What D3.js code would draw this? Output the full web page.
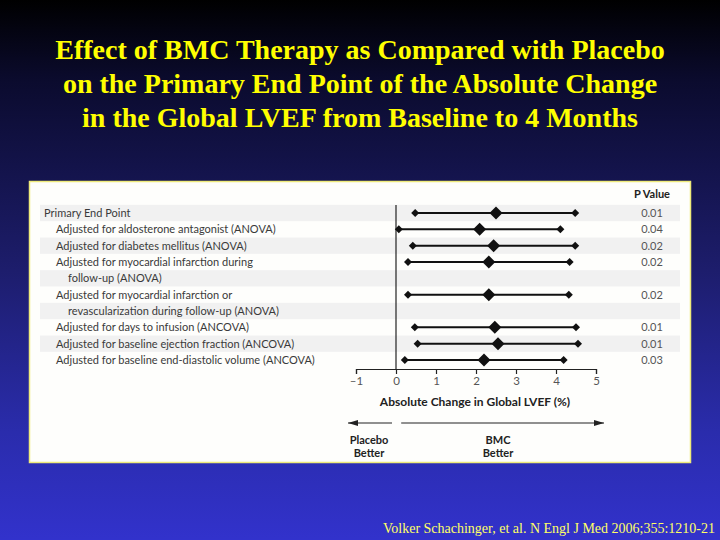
<!DOCTYPE html>
<html lang="en">
<head>
  <meta charset="UTF-8">
  <title>Effect of BMC Therapy</title>
  <script src="https://d3js.org/d3.v7.min.js"></script>
  <style>
    body { margin: 0; padding: 0; background: #000; }
    svg { display: block; }
    .label { font-family: Lato, "Open Sans", sans-serif; font-size: 11px; fill: #3a3a3a; }
    .title { font-family: "Liberation Serif", "Times New Roman", serif; font-weight: bold; font-size: 28px; fill: #ffff00; }
  </style>
</head>
<body>
  <div id="chart"></div>
  <script>
    const titleLines = [
      "Effect of BMC Therapy as Compared with Placebo",
      "on the Primary End Point of the Absolute Change",
      "in the Global LVEF from Baseline to 4 Months"
    ];
    const rowLabels = [
      "Primary End Point",
      "Adjusted for aldosterone antagonist (ANOVA)",
      "Adjusted for diabetes mellitus (ANOVA)",
      "Adjusted for myocardial infarction during",
      "follow-up (ANOVA)",
      "Adjusted for myocardial infarction or",
      "revascularization during follow-up (ANOVA)",
      "Adjusted for days to infusion (ANCOVA)",
      "Adjusted for baseline ejection fraction (ANCOVA)",
      "Adjusted for baseline end-diastolic volume (ANCOVA)"
    ];
    const rowIndent = [0, 1, 1, 1, 2, 1, 2, 1, 1, 1];
    const estimate = [2.5, 2.09, 2.44, 2.32, null, 2.32, null, 2.47, 2.55, 2.2];
    const lower = [0.48, 0.07, 0.42, 0.3, null, 0.3, null, 0.47, 0.54, 0.22];
    const upper = [4.48, 4.11, 4.48, 4.34, null, 4.32, null, 4.5, 4.55, 4.19];
    const pValues = ["0.01", "0.04", "0.02", "0.02", "", "0.02", "", "0.01", "0.01", "0.03"];
    const xTicks = [-1, 0, 1, 2, 3, 4, 5];
    const citation = "Volker Schachinger, et al. N Engl J Med 2006;355:1210-21";

    const width = 720, height = 540;

    const svg = d3.select("#chart").append("svg")
      .attr("width", width)
      .attr("height", height);

    // slide background
    const grad = svg.append("defs").append("linearGradient")
      .attr("id", "bg").attr("x1", 0).attr("y1", 0).attr("x2", 0).attr("y2", 1);
    [[0, "#000000"], [0.15, "#0b0b2e"], [0.5, "#1d1d6c"], [0.8, "#2a2cac"], [1, "#3232cc"]]
      .forEach(s => grad.append("stop").attr("offset", s[0]).attr("stop-color", s[1]));
    svg.append("rect").attr("width", width).attr("height", height).attr("fill", "url(#bg)");

    svg.selectAll(".title").data(titleLines).enter().append("text")
      .attr("class", "title")
      .attr("x", width / 2)
      .attr("y", (d, i) => 59 + i * 34)
      .attr("text-anchor", "middle")
      .text(d => d);

    // figure panel
    svg.append("rect")
      .attr("x", 29.5).attr("y", 181.5).attr("width", 661).attr("height", 281)
      .attr("fill", "#fefefc").attr("stroke", "#eeea7a").attr("stroke-width", 1.5);

    const x = d3.scaleLinear().domain([-1, 5]).range([356, 596]);
    const y = d3.scaleLinear().domain([0, rowLabels.length - 1]).range([213, 360]);
    const rowH = y(1) - y(0);

    const rows = rowLabels.map((label, i) => ({
      label, indent: rowIndent[i], est: estimate[i], lo: lower[i], hi: upper[i], p: pValues[i], i
    }));

    svg.append("g").selectAll("rect")
      .data(rows.filter(d => d.i % 2 === 0))
      .enter().append("rect")
      .attr("x", 40).attr("width", 640)
      .attr("y", d => y(d.i) - rowH / 2)
      .attr("height", rowH)
      .attr("fill", "#f1f1f1");

    svg.append("g").selectAll("text")
      .data(rows).enter().append("text")
      .attr("class", "label")
      .attr("x", d => 44 + d.indent * 12)
      .attr("y", d => y(d.i) + 4)
      .text(d => d.label);

    // P values
    svg.append("text")
      .attr("class", "label")
      .attr("x", 652).attr("y", 198)
      .attr("text-anchor", "middle")
      .style("font-weight", "bold").style("fill", "#222")
      .text("P Value");
    svg.append("g").selectAll("text")
      .data(rows.filter(d => d.p)).enter().append("text")
      .attr("class", "label")
      .attr("x", 652).attr("y", d => y(d.i) + 4)
      .attr("text-anchor", "middle")
      .style("fill", "#555")
      .text(d => d.p);

    // zero line
    svg.append("line")
      .attr("x1", x(0)).attr("x2", x(0))
      .attr("y1", 205).attr("y2", 369)
      .attr("stroke", "#222").attr("stroke-width", 1.2);

    // axis
    const axis = svg.append("g")
      .attr("transform", "translate(0,369)")
      .call(d3.axisBottom(x).tickValues(xTicks).tickSize(5).tickPadding(3)
        .tickFormat(d => d < 0 ? "\u2013" + Math.abs(d) : d));
    axis.select(".domain").attr("stroke", "#222").attr("stroke-width", 1.2);
    axis.selectAll(".tick line").attr("stroke", "#222").attr("stroke-width", 1.2);
    axis.selectAll(".tick text")
      .attr("font-family", "Lato, sans-serif").attr("font-size", 11.5).attr("fill", "#555");

    svg.append("text")
      .attr("class", "label")
      .attr("x", 475).attr("y", 406)
      .attr("text-anchor", "middle")
      .style("font-weight", "bold").style("font-size", "12px").style("fill", "#222")
      .text("Absolute Change in Global LVEF (%)");

    // confidence intervals
    const ci = rows.filter(d => d.est !== null);
    const diamond = r => `M0,${-r}L${r},0L0,${r}L${-r},0Z`;
    const g = svg.append("g");
    g.selectAll("line").data(ci).enter().append("line")
      .attr("x1", d => x(d.lo)).attr("x2", d => x(d.hi))
      .attr("y1", d => y(d.i)).attr("y2", d => y(d.i))
      .attr("stroke", "#111").attr("stroke-width", 2);
    g.selectAll(".end").data(ci.flatMap(d => [{ v: d.lo, i: d.i }, { v: d.hi, i: d.i }]))
      .enter().append("path")
      .attr("class", "end")
      .attr("d", diamond(4))
      .attr("transform", d => `translate(${x(d.v)},${y(d.i)})`)
      .attr("fill", "#111");
    g.selectAll(".est").data(ci).enter().append("path")
      .attr("class", "est")
      .attr("d", diamond(6.5))
      .attr("transform", d => `translate(${x(d.est)},${y(d.i)})`)
      .attr("fill", "#111");

    // direction arrows
    const defs = svg.select("defs");
    defs.append("marker")
      .attr("id", "arrow").attr("viewBox", "0 0 10 6")
      .attr("refX", 10).attr("refY", 3)
      .attr("markerWidth", 10).attr("markerHeight", 6)
      .attr("markerUnits", "userSpaceOnUse")
      .attr("orient", "auto")
      .append("path").attr("d", "M0,0L10,3L0,6Z").attr("fill", "#222");
    svg.append("line")
      .attr("x1", x(-0.1)).attr("x2", x(-1.2))
      .attr("y1", 423).attr("y2", 423)
      .attr("stroke", "#222").attr("stroke-width", 1.2)
      .attr("marker-end", "url(#arrow)");
    svg.append("line")
      .attr("x1", x(0.13)).attr("x2", x(5.2))
      .attr("y1", 423).attr("y2", 423)
      .attr("stroke", "#222").attr("stroke-width", 1.2)
      .attr("marker-end", "url(#arrow)");

    [["Placebo", "Better", 369], ["BMC", "Better", 498]].forEach(([a, b, cx]) => {
      [a, b].forEach((t, k) => {
        svg.append("text")
          .attr("class", "label")
          .attr("x", cx).attr("y", 444 + k * 13)
          .attr("text-anchor", "middle")
          .style("font-weight", "bold").style("fill", "#222")
          .text(t);
      });
    });

    svg.append("text")
      .attr("x", 715).attr("y", 533)
      .attr("text-anchor", "end")
      .attr("font-family", "Liberation Serif, serif")
      .attr("font-size", 14)
      .attr("fill", "#ffff66")
      .text(citation);
  </script>
</body>
</html>
